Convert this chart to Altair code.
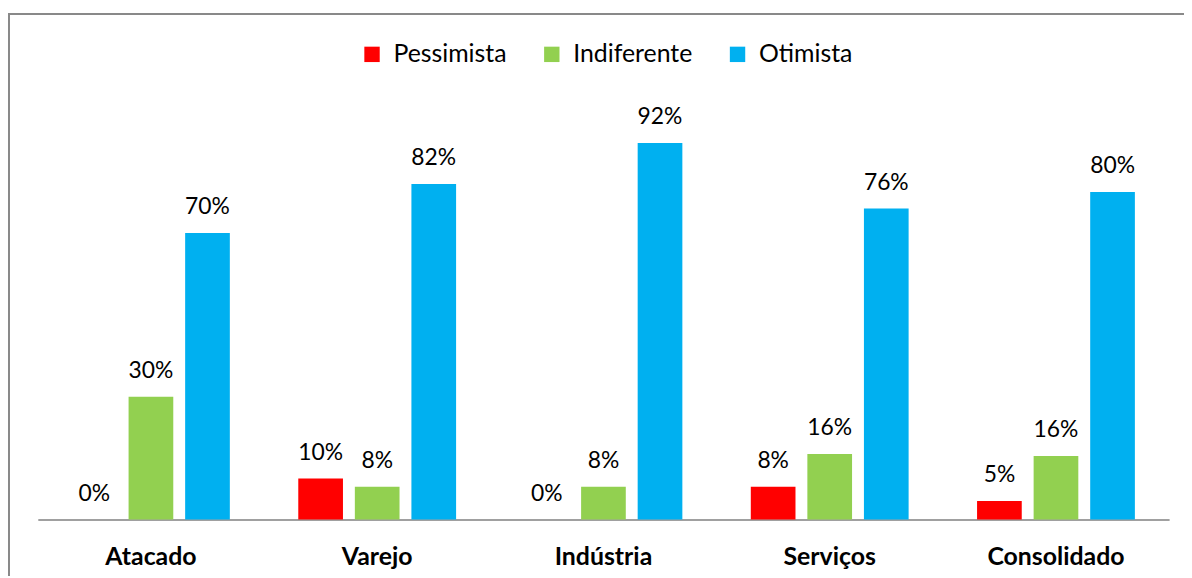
import altair as alt
import pandas as pd

categories = ["Atacado", "Varejo", "Indústria", "Serviços", "Consolidado"]
series = ["Pessimista", "Indiferente", "Otimista"]
pessimista = [0, 10, 0, 8, 4.5]
indiferente = [30, 8, 8, 16, 15.5]
otimista = [70, 82, 92, 76, 80]
label_pess = ["0%", "10%", "0%", "8%", "5%"]
label_ind = ["30%", "8%", "8%", "16%", "16%"]
label_oti = ["70%", "82%", "92%", "76%", "80%"]
colors = ["#FF0000", "#92D050", "#00B0F0"]

rows = []
for vals, labs, s in [(pessimista, label_pess, series[0]),
                      (indiferente, label_ind, series[1]),
                      (otimista, label_oti, series[2])]:
    for c, v, l in zip(categories, vals, labs):
        rows.append({"cat": c, "serie": s, "valor": v, "rotulo": l})
df = pd.DataFrame(rows)

FONT = "Lato"

x = alt.X("cat:N", sort=categories, title=None,
          scale=alt.Scale(paddingInner=0, paddingOuter=0),
          axis=alt.Axis(labelAngle=0, ticks=False, labelFontWeight="bold",
                        labelFont=FONT, labelFontSize=25, labelColor="black",
                        labelPadding=25, domainColor="#A0A0A0", domainWidth=2))
xoff = alt.XOffset("serie:N", sort=series,
                   scale=alt.Scale(paddingInner=0.21, paddingOuter=0.605))
y = alt.Y("valor:Q", scale=alt.Scale(domain=[0, 100]), axis=None)

bars = alt.Chart(df).mark_bar().encode(
    x=x, xOffset=xoff, y=y,
    color=alt.Color("serie:N", sort=series,
                    scale=alt.Scale(domain=series, range=colors),
                    legend=alt.Legend(title=None, orient="none", direction="horizontal",
                                      legendX=324, legendY=-69,
                                      symbolType="square", symbolSize=240,
                                      symbolStrokeWidth=0,
                                      labelFont=FONT, labelFontSize=25,
                                      labelColor="black", labelOffset=9,
                                      columnPadding=33))
)

text = alt.Chart(df).mark_text(font=FONT, fontSize=23, color="black",
                               baseline="alphabetic", dy=-19).encode(
    x=x, xOffset=xoff, y=y, text="rotulo:N"
)

border = alt.Chart(pd.DataFrame({"a": [0]})).mark_rect(
    fill=None, stroke="#898989", strokeWidth=2
).encode(x=alt.value(-29), x2=alt.value(1200), y=alt.value(-97), y2=alt.value(500))

chart = alt.layer(border, bars, text).properties(
    width=1139, height=412,
    autosize=alt.AutoSizeParams(type="none"),
    padding={"left": 30, "top": 101, "right": 15, "bottom": 55},
).configure_view(stroke=None)

chart.save("out.html", embed_options={"renderer": "svg", "actions": False})
